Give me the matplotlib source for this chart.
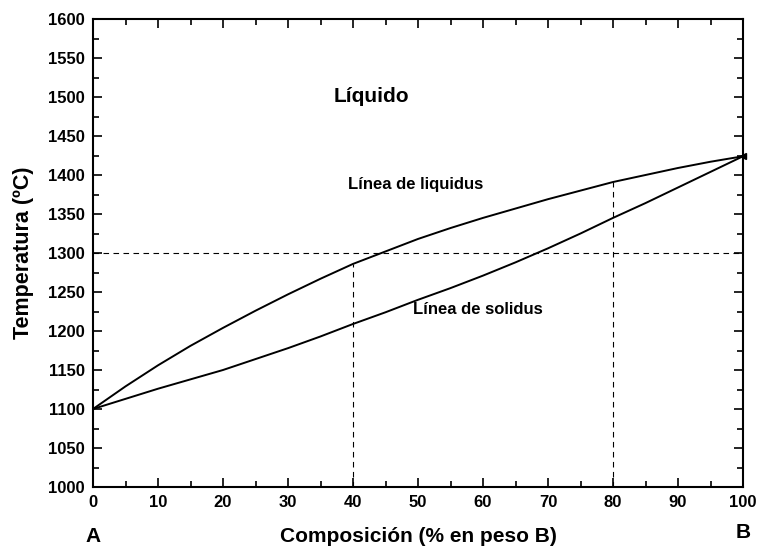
import matplotlib
matplotlib.use('Agg')
import matplotlib.pyplot as plt
from matplotlib.ticker import MultipleLocator

plt.rcParams['font.family'] = ['Liberation Sans', 'DejaVu Sans']

comp = [0, 5, 10, 15, 20, 25, 30, 35, 40, 45, 50, 55, 60, 65, 70, 75, 80, 85, 90, 95, 100]
liquidus = [1100, 1129, 1156, 1181, 1204, 1226, 1247, 1267, 1286, 1302, 1318,
            1332, 1345, 1357, 1369, 1380, 1391, 1400, 1409, 1417, 1424]
solidus = [1100, 1113, 1126, 1138, 1150, 1164, 1178, 1193, 1209, 1224, 1240,
           1255, 1271, 1288, 1306, 1325, 1345, 1364, 1384, 1404, 1424]

T_ref = 1300
comp_lines = [40, 80]
liq_at_lines = [1286, 1391]

fig = plt.figure(figsize=(7.58, 5.49), dpi=100)
ax = fig.add_axes([93/758, 1 - 487/549, 650/758, 468/549])

ax.plot(comp, liquidus, color='black', lw=1.4)
ax.plot(comp, solidus, color='black', lw=1.4)
ax.plot([100], [1424], marker='<', color='black', ms=4, clip_on=False)

# líneas de referencia discontinuas
ax.plot([0, 100], [T_ref, T_ref], color='black', lw=0.8, ls=(0, (5, 4)))
for c, t in zip(comp_lines, liq_at_lines):
    ax.plot([c, c], [1000, t], color='black', lw=0.8, ls=(0, (5, 4)))

ax.text(37, 1500, 'Líquido', fontsize=15, fontweight='bold', va='center')
ax.text(39.3, 1388, 'Línea de liquidus', fontsize=12, fontweight='bold', va='center')
ax.text(49.2, 1228, 'Línea de solidus', fontsize=12, fontweight='bold', va='center')

ax.set_xlim(0, 100)
ax.set_ylim(1000, 1600)
ax.xaxis.set_major_locator(MultipleLocator(10))
ax.xaxis.set_minor_locator(MultipleLocator(5))
ax.yaxis.set_major_locator(MultipleLocator(50))
ax.yaxis.set_minor_locator(MultipleLocator(25))
ax.tick_params(which='both', direction='in', top=True, right=True, width=1.2)
ax.tick_params(which='major', length=6.5, labelsize=12, pad=6)
ax.tick_params(which='minor', length=4.5)
for lab in ax.get_xticklabels() + ax.get_yticklabels():
    lab.set_fontweight('bold')
for s in ax.spines.values():
    s.set_linewidth(1.5)

ax.set_xlabel('Composición (% en peso B)', fontsize=15, fontweight='bold', labelpad=12)
ax.set_ylabel('Temperatura (ºC)', fontsize=15.5, fontweight='bold', labelpad=10)

fig.text(93/758, 1 - 536/549, 'A', fontsize=15, fontweight='bold', ha='center', va='center')
fig.text(743/758, 1 - 533/549, 'B', fontsize=15, fontweight='bold', ha='center', va='center')

fig.savefig('out.png', dpi=100)
